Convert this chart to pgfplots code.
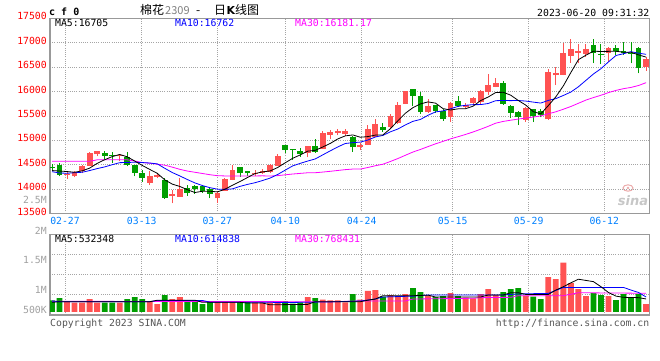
\documentclass[border=0pt]{standalone}
\usepackage{pgfplots}
\usepackage{pgfplotstable}
\pgfplotsset{compat=1.18}
\usepackage{fontspec}
\setmainfont{DejaVu Sans}
\setsansfont{DejaVu Sans}
\setmonofont{DejaVu Sans Mono}
\newfontfamily\cjk{Noto Sans CJK SC}
\definecolor{cred}{RGB}{255,82,82}
\definecolor{cgreen}{RGB}{0,158,0}
\definecolor{cblue}{RGB}{0,0,255}
\definecolor{cmag}{RGB}{255,0,255}
\definecolor{cdate}{RGB}{0,128,255}
\definecolor{cframe}{RGB}{153,153,153}
\definecolor{cgrid}{RGB}{165,165,165}
\definecolor{clab}{RGB}{160,160,160}
\definecolor{cfoot}{RGB}{85,85,85}
\definecolor{clogo}{RGB}{235,170,170}
\newcommand\mf{\ttfamily\fontsize{9.8}{10}\selectfont}

\pgfplotstableread{
x o h l c
2 14280 14380 14210 14310
3 14260 14380 14240 14350
4 14380 14490 14320 14470
5 14480 14760 14470 14730
6 14710 14790 14670 14775
9 14670 14720 14570 14690
13 14125 14380 14090 14260
14 14250 14330 14225 14290
16 13850 13975 13710 13905
17 13845 14225 13840 13995
22 13810 13960 13725 13930
23 13965 14225 13960 14210
24 14190 14500 14180 14400
27 14300 14400 14260 14335
28 14335 14405 14310 14380
29 14360 14515 14325 14495
30 14475 14720 14470 14680
34 14750 14890 14650 14885
36 14830 15190 14820 15145
37 15110 15205 15020 15165
38 15145 15230 15100 15185
39 15130 15230 15080 15200
41 14860 14940 14800 14910
42 14910 15315 14900 15230
43 15075 15445 15070 15340
45 15265 15530 15240 15500
46 15350 15790 15340 15725
47 15745 16010 15740 16005
50 15575 15840 15560 15705
53 15485 15790 15375 15770
55 15690 15760 15655 15720
56 15760 15895 15740 15860
57 15780 16030 15725 16010
58 15985 16365 15930 16135
59 16100 16285 16090 16170
63 15420 15690 15385 15655
66 15430 16470 15420 16410
67 16330 16510 16130 16370
68 16340 17000 16330 16780
69 16730 17070 16590 16870
70 16795 16975 16575 16830
71 16770 16970 16715 16870
74 16780 16920 16600 16885
79 16495 16715 16425 16665
}\redc

\pgfplotstableread{
x o h l c
0 14455 14520 14397 14440
1 14500 14540 14260 14290
7 14735 14790 14620 14685
8 14690 14755 14535 14672
10 14655 14770 14465 14490
11 14490 14500 14260 14340
12 14340 14385 14150 14235
15 14180 14220 13800 13820
18 14025 14080 13865 13930
19 14055 14080 13910 14000
20 14055 14080 13920 13952
21 14000 14020 13810 13905
25 14450 14455 14250 14330
26 14365 14375 14275 14320
31 14905 14910 14745 14800
32 14815 14830 14600 14800
33 14790 14845 14665 14725
35 14885 15030 14750 14760
40 15060 15095 14770 14855
44 15265 15350 15175 15210
48 16050 16060 15700 15910
49 15910 15980 15540 15590
51 15725 15730 15565 15600
52 15600 15635 15400 15440
54 15805 15910 15690 15710
60 16180 16210 15730 15745
61 15710 15720 15450 15565
62 15585 15610 15310 15470
64 15635 15640 15375 15500
65 15600 15635 15470 15520
72 16950 17070 16580 16780
73 16770 16970 16560 16750
75 16885 16950 16745 16835
76 16830 17010 16745 16780
77 16795 17010 16575 16775
78 16885 16920 16370 16475
}\greenc

\pgfplotstableread{
x v
2 420000
3 378000
4 378000
5 530000
6 378000
9 378000
13 447000
14 323000
16 530000
17 613000
22 420000
23 447000
24 447000
27 392000
28 392000
29 392000
30 447000
34 613000
36 503000
37 475000
38 475000
39 392000
41 503000
42 862000
43 903000
45 696000
46 654000
47 737000
50 668000
53 779000
55 585000
56 558000
57 737000
58 944000
59 696000
63 668000
66 1441000
67 1358000
68 2035000
69 1193000
70 944000
71 654000
74 654000
79 323000
}\redv

\pgfplotstableread{
x v
0 475000
1 572000
7 378000
8 378000
10 530000
11 613000
12 530000
15 696000
18 420000
19 420000
20 323000
21 420000
25 392000
26 420000
31 447000
32 337000
33 392000
35 572000
40 737000
44 627000
48 986000
49 820000
51 613000
52 654000
54 654000
60 820000
61 944000
62 986000
64 627000
65 530000
72 779000
73 696000
75 489000
76 737000
77 613000
78 737000
}\greenv

\pgfplotsset{
  kaxis/.style={
    scale only axis, width=599.3pt,
    xmin=-0.27, xmax=79.43,
    axis line style={draw=cframe, line width=1.2pt},
    major tick length=0pt,
    scaled ticks=false,
    grid=major,
    major grid style={draw=cgrid, line width=0.8pt, dash pattern=on 1pt off 1.2pt},
    xtick={1.73,11.93,21.98,31.02,41.18,53.28,63.39,73.44},
  },
}

\begin{document}
\begin{tikzpicture}
\path[use as bounding box] (0pt,0pt) rectangle (660pt,-360pt);

% sina logo (background watermark)
\draw[clogo, line width=1pt] (628pt,-188pt) ellipse (5pt and 3.2pt);
\fill[clogo] (628pt,-188pt) circle (1.4pt);
\node[anchor=base, inner sep=0, font=\sffamily\bfseries\itshape\fontsize{13}{13}\selectfont, text=black!22] at (633pt,-205pt) {sina};

% ---------- price panel ----------
\begin{axis}[kaxis,
  at={(50pt,-213.5pt)}, anchor=south west, height=195.2pt,
  ymin=13500, ymax=17500,
  ytick={13500,14000,14500,15000,15500,16000,16500,17000,17500},
  yticklabels={13500,14000,14500,15000,15500,16000,16500,17000,17500},
  yticklabel style={font=\mf, text=red, anchor=east, inner sep=0pt, xshift=-3pt, yshift=2pt},
  xticklabels={02-27,03-13,03-27,04-10,04-24,05-15,05-29,06-12},
  xticklabel style={font=\mf, text=cdate, anchor=north, inner sep=0pt, yshift=-4pt},
]
\addplot[cred, line width=1pt, mark=none, forget plot, quiver={u=0, v={\thisrow{h}-\thisrow{l}}}] table[x=x, y=l] {\redc};
\addplot[cred, line width=5.8pt, mark=none, forget plot, quiver={u=0, v={\thisrow{c}-\thisrow{o}}}] table[x=x, y=o] {\redc};
\addplot[cgreen, line width=1pt, mark=none, forget plot, quiver={u=0, v={\thisrow{h}-\thisrow{l}}}] table[x=x, y=l] {\greenc};
\addplot[cgreen, line width=5.8pt, mark=none, forget plot, quiver={u=0, v={\thisrow{o}-\thisrow{c}}}] table[x=x, y=c] {\greenc};

\addplot[cmag, line width=0.8pt, mark=none] coordinates {
(0,14570)(5,14570)(6,14600)(10,14600)(11,14575)(12,14545)(13,14530)(14,14510)(15,14490)(16,14450)(17,14405)(18,14370)(19,14345)(20,14320)(21,14295)(22,14275)(23,14270)(24,14268)(25,14268)(26,14268)(27,14270)(28,14272)
(29,14268)(30,14276)(31,14293)(32,14309)(33,14322)(34,14335)(35,14336)(36,14349)(37,14365)(38,14382)(39,14399)(40,14411)(41,14410)(42,14443)(43,14479)(44,14510)(45,14566)(46,14627)(47,14694)(48,14760)(49,14813)(50,14871)(51,14928)(52,14978)(53,15030)(54,15074)(55,15120)(56,15171)(57,15227)(58,15286)(59,15351)(60,15387)(61,15412)(62,15435)(63,15456)(64,15476)(65,15502)(66,15544)(67,15584)(68,15637)(69,15693)(70,15759)(71,15824)(72,15876)(73,15923)(74,15978)(75,16023)(76,16058)(77,16084)(78,16123)(79,16181)};
\addplot[cblue, line width=0.8pt, mark=none] coordinates {
(0,14357)(1,14330)(2,14325)(3,14335)(4,14345)(5,14380)(6,14420)(7,14455)(8,14500)(9,14542)(10,14546)(11,14551)(12,14544)(13,14535)(14,14517)(15,14426)(16,14339)(17,14270)(18,14196)(19,14127)(20,14073)(21,14029)(22,13999)(23,13994)(24,14005)(25,14056)(26,14097)(27,14131)(28,14176)(29,14226)(30,14299)(31,14388)(32,14475)(33,14527)(34,14575)(35,14618)(36,14701)(37,14784)(38,14864)(39,14935)(40,14952)(41,14963)(42,15006)(43,15068)(44,15100)(45,15174)(46,15232)(47,15316)(48,15389)(49,15428)(50,15513)(51,15582)(52,15603)(53,15646)(54,15696)(55,15718)(56,15731)(57,15732)(58,15754)(59,15812)(60,15816)(61,15813)(62,15816)(63,15804)(64,15783)(65,15763)(66,15818)(67,15854)(68,15919)(69,15989)(70,16097)(71,16228)(72,16359)(73,16468)(74,16607)(75,16738)(76,16775)(77,16816)(78,16785)(79,16762)};
\addplot[black, line width=0.8pt, mark=none] coordinates {
(0,14380)(1,14370)(2,14360)(3,14345)(4,14374)(5,14430)(6,14527)(7,14602)(8,14666)(9,14710)(10,14662)(11,14575)(12,14485)(13,14403)(14,14323)(15,14189)(16,14102)(17,14054)(18,13988)(19,13930)(20,13956)(21,13956)(22,13943)(23,13999)(24,14079)(25,14155)(26,14238)(27,14319)(28,14353)(29,14372)(30,14442)(31,14538)(32,14631)(33,14700)(34,14778)(35,14794)(36,14863)(37,14936)(38,15028)(39,15091)(40,15110)(41,15063)(42,15076)(43,15107)(44,15109)(45,15238)(46,15401)(47,15556)(48,15670)(49,15746)(50,15787)(51,15762)(52,15649)(53,15621)(54,15645)(55,15648)(56,15700)(57,15814)(58,15887)(59,15979)(60,15984)(61,15925)(62,15817)(63,15721)(64,15587)(65,15542)(66,15711)(67,15891)(68,16116)(69,16390)(70,16652)(71,16744)(72,16826)(73,16820)(74,16823)(75,16824)(76,16806)(77,16805)(78,16750)(79,16705)};
\end{axis}

% ---------- volume panel ----------
\begin{axis}[kaxis,
  at={(50pt,-315pt)}, anchor=south west, height=80.7pt,
  ymin=-132538, ymax=3209895,
  ytick={704000,1537000,2373000}, yticklabels={},
  xticklabels={},
]
\addplot[ybar, bar width=5.8pt, bar shift=0pt, fill=cred, draw=none] table[x=x, y=v] {\redv};
\addplot[ybar, bar width=5.8pt, bar shift=0pt, fill=cgreen, draw=none] table[x=x, y=v] {\greenv};
\addplot[cmag, line width=0.8pt, mark=none] coordinates {
(0,435000)(37,418000)(41,447000)(47,450000)(48,530000)(56,560000)(57,586000)(61,600000)(62,667000)(68,667000)(70,790000)(79,768431)};
\addplot[cblue, line width=0.8pt, mark=none] coordinates {
(0,447000)(1,420000)(13,420000)(14,470000)(20,470000)(21,400000)(29,400000)(30,380000)(37,410000)(41,447000)(43,530000)(44,613000)(48,650000)(50,696000)(57,696000)(60,700000)(62,740000)(66,764000)(68,1010000)(76,1010000)(77,900000)(78,800000)(79,614838)};
\addplot[black, line width=0.8pt, mark=none] coordinates {
(0,392000)(1,418000)(13,418000)(14,480000)(19,480000)(20,392000)(25,392000)(26,364000)(28,364000)(29,290000)(34,309000)(35,418000)(41,418000)(42,480000)(43,530000)(44,667000)(48,667000)(50,690000)(51,613000)(57,613000)(58,696000)(60,696000)(61,791000)(62,791000)(63,720000)(66,720000)(67,900000)(68,1040000)(69,1200000)(70,1350000)(71,1300000)(72,1250000)(73,1040000)(74,800000)(75,650000)(76,600000)(78,586000)(79,532348)};
\end{axis}

% ---------- texts ----------
\node[anchor=base west, inner sep=0, font=\ttfamily\bfseries\fontsize{10}{10}\selectfont] at (49pt,-15.7pt) {c f 0};
\node[anchor=base west, inner sep=0, font=\cjk\fontsize{12}{12}\selectfont] at (140pt,-14.5pt) {棉花};
\node[anchor=base west, inner sep=0, font=\cjk\fontsize{11}{11}\selectfont, text=gray] at (165pt,-14pt) {2309};
\node[anchor=base west, inner sep=0, font=\cjk\fontsize{12}{12}\selectfont] at (196pt,-14.5pt) {-};
\node[anchor=base west, inner sep=0, font=\cjk\fontsize{12}{12}\selectfont] at (214pt,-14.5pt) {日};
\node[anchor=base west, inner sep=0, font=\sffamily\bfseries\fontsize{11}{11}\selectfont] at (226.5pt,-14.5pt) {K};
\node[anchor=base west, inner sep=0, font=\cjk\fontsize{12}{12}\selectfont] at (235pt,-14.5pt) {线图};
\node[anchor=base east, inner sep=0, font=\mf] at (649.5pt,-16pt) {2023-06-20 09:31:32};

\node[anchor=base west, inner sep=0, font=\mf] at (55pt,-26.7pt) {MA5:16705};
\node[anchor=base west, inner sep=0, font=\mf, text=cblue] at (175pt,-26.7pt) {MA10:16762};
\node[anchor=base west, inner sep=0, font=\mf, text=cmag] at (295pt,-26.7pt) {MA30:16181.17};

\node[anchor=base west, inner sep=0, font=\mf] at (55pt,-242.3pt) {MA5:532348};
\node[anchor=base west, inner sep=0, font=\mf, text=cblue] at (175pt,-242.3pt) {MA10:614838};
\node[anchor=base west, inner sep=0, font=\mf, text=cmag] at (295pt,-242.3pt) {MA30:768431};

\node[anchor=base east, inner sep=0, font=\mf, text=clab] at (47pt,-203.3pt) {2.5M};
\node[anchor=base east, inner sep=0, font=\mf, text=clab] at (47pt,-234.3pt) {2M};
\node[anchor=base east, inner sep=0, font=\mf, text=clab] at (47pt,-263.3pt) {1.5M};
\node[anchor=base east, inner sep=0, font=\mf, text=clab] at (47pt,-293.3pt) {1M};
\node[anchor=base east, inner sep=0, font=\mf, text=clab] at (47pt,-313.3pt) {500K};

\node[anchor=base west, inner sep=0, font=\mf, text=cfoot] at (50pt,-326.5pt) {Copyright 2023 SINA.COM};
\node[anchor=base east, inner sep=0, font=\mf, text=cfoot] at (649.5pt,-326.5pt) {http://finance.sina.com.cn};
\end{tikzpicture}
\end{document}
